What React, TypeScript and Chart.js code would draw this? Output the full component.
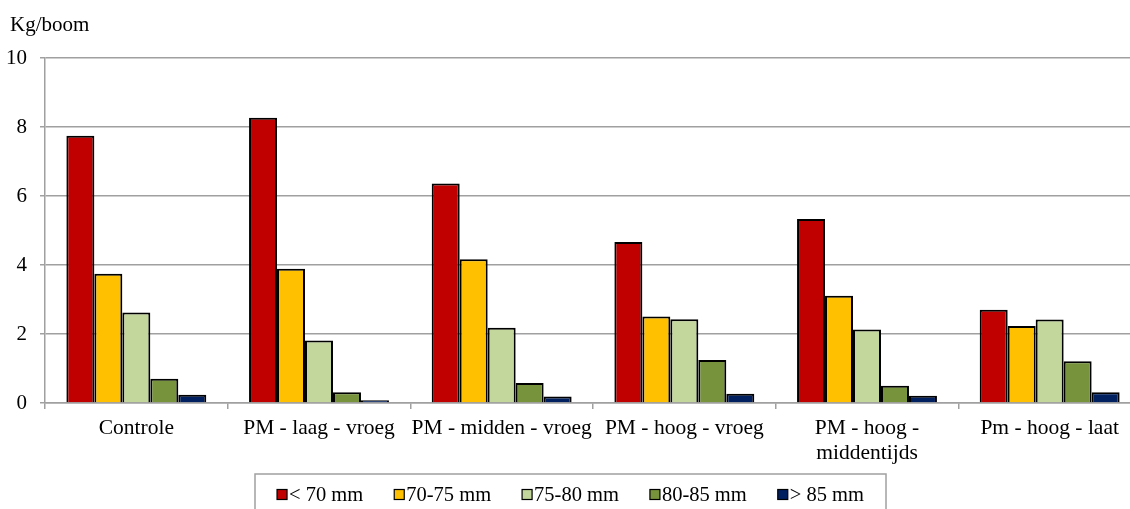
import { useEffect, useRef } from 'react';
import { Chart, registerables } from 'chart.js';

Chart.register(...registerables);

const categories = [
  'Controle',
  'PM - laag - vroeg',
  'PM - midden - vroeg',
  'PM - hoog - vroeg',
  ['PM - hoog -', 'middentijds'],
  'Pm - hoog - laat',
];
const seriesLabels = ['< 70 mm', '70-75 mm', '75-80 mm', '80-85 mm', '> 85 mm'];
const seriesColors = ['#C00000', '#FFC000', '#C3D69B', '#77933C', '#002060'];

const under70 = [7.75, 8.27, 6.36, 4.67, 5.33, 2.7];
const mm70to75 = [3.75, 3.89, 4.17, 2.51, 3.11, 2.23];
const mm75to80 = [2.62, 1.81, 2.18, 2.43, 2.13, 2.42];
const mm80to85 = [0.7, 0.31, 0.58, 1.25, 0.5, 1.21];
const over85 = [0.24, 0.08, 0.19, 0.27, 0.21, 0.31];

const yTicks = [0, 2, 4, 6, 8, 10];

const FONT = "'Liberation Serif', 'Times New Roman', serif";
const GRID = '#a0a0a0';

// y-axis title and boxed legend underneath, drawn by hand
const extrasPlugin = {
  id: 'extras',
  afterDraw(chart: Chart) {
    const ctx = chart.ctx;
    ctx.save();
    ctx.font = `21px ${FONT}`;
    ctx.fillStyle = '#000';
    ctx.textBaseline = 'alphabetic';
    ctx.textAlign = 'left';
    ctx.fillText('Kg/boom', 10, 31);

    const box = { left: 255, top: 474, right: 886, bottom: 540 };
    ctx.strokeStyle = GRID;
    ctx.lineWidth = 1.5;
    ctx.strokeRect(box.left, box.top, box.right - box.left, box.bottom - box.top);

    ctx.font = `20.5px ${FONT}`;
    const marker = 10;
    const gap = 2;
    const spacing = 31;
    const items = chart.data.datasets.map((ds) => ({
      label: String(ds.label),
      color: ds.backgroundColor as string,
      w: ctx.measureText(String(ds.label)).width,
    }));
    const total =
      items.reduce((s, it) => s + marker + gap + it.w, 0) + spacing * (items.length - 1);
    let x = (box.left + box.right) / 2 - total / 2;
    const baseline = 501;
    items.forEach((it) => {
      ctx.fillStyle = it.color;
      ctx.fillRect(x, 489.5, marker, marker);
      ctx.strokeStyle = '#000';
      ctx.lineWidth = 1.2;
      ctx.strokeRect(x, 489.5, marker, marker);
      ctx.fillStyle = '#000';
      ctx.fillText(it.label, x + marker + gap, baseline);
      x += marker + gap + it.w + spacing;
    });
    ctx.restore();
  },
};

export default function App() {
  const canvasRef = useRef<HTMLCanvasElement>(null);
  const chartRef = useRef<Chart | null>(null);

  useEffect(() => {
    if (!canvasRef.current) return;
    if (chartRef.current) chartRef.current.destroy();

    const values = [under70, mm70to75, mm75to80, mm80to85, over85];

    chartRef.current = new Chart(canvasRef.current, {
      type: 'bar',
      data: {
        labels: categories,
        datasets: values.map((v, i) => ({
          label: seriesLabels[i],
          data: v,
          backgroundColor: seriesColors[i],
          borderColor: '#000',
          borderWidth: 2,
          categoryPercentage: 0.766,
          barPercentage: 1,
        })),
      },
      options: {
        animation: false,
        responsive: true,
        maintainAspectRatio: false,
        layout: { padding: { top: 58, left: 0, right: 9, bottom: 0 } },
        plugins: {
          legend: { display: false },
          tooltip: { enabled: false },
        },
        scales: {
          x: {
            grid: {
              display: true,
              offset: true,
              drawOnChartArea: false,
              drawTicks: true,
              tickLength: 6,
              color: GRID,
              lineWidth: 1.5,
            },
            border: { color: GRID, width: 1.5 },
            ticks: {
              color: '#000',
              font: { family: FONT, size: 21.5 },
              padding: 6,
              maxRotation: 0,
              autoSkip: false,
            },
            afterFit(scale: any) {
              scale.height = 106;
            },
          },
          y: {
            min: 0,
            max: 10,
            afterBuildTicks(scale: any) {
              scale.ticks = yTicks.map((v) => ({ value: v }));
            },
            grid: {
              color: GRID,
              lineWidth: 1.5,
              tickLength: 5,
            },
            border: { color: GRID, width: 1.5 },
            ticks: {
              color: '#000',
              font: { family: FONT, size: 21 },
              padding: 13,
            },
            afterFit(scale: any) {
              scale.width = 45;
            },
          },
        },
      },
      plugins: [extrasPlugin],
    });

    return () => {
      chartRef.current?.destroy();
      chartRef.current = null;
    };
  }, []);

  return (
    <div
      style={{
        position: 'fixed',
        left: 0,
        top: 0,
        width: 1130,
        height: 509,
        overflow: 'hidden',
        background: '#fff',
      }}
    >
      <div style={{ position: 'relative', width: 1150, height: 509 }}>
        <canvas ref={canvasRef} />
      </div>
    </div>
  );
}
